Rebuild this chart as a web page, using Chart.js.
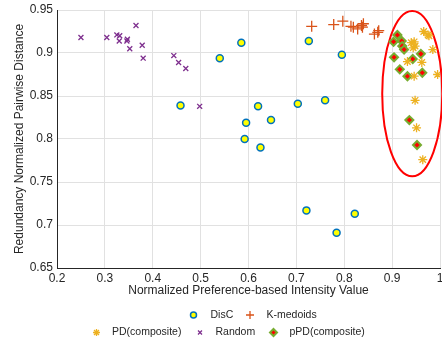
<!DOCTYPE html>
<html>
<head>
<meta charset="utf-8">
<script src="https://cdn.jsdelivr.net/npm/chart.js@4/dist/chart.umd.min.js"></script>
<style>
  html, body { margin: 0; padding: 0; background: #fff; }
  #wrap { width: 442px; height: 345px; }
</style>
</head>
<body>
<div id="wrap"><canvas id="c" width="442" height="345"></canvas></div>
<script>
// ---- data ----
const discX = [0.458, 0.540, 0.585, 0.726, 0.795, 0.620, 0.595, 0.647, 0.592, 0.625, 0.703, 0.760, 0.721, 0.822, 0.784];
const discY = [0.839, 0.894, 0.912, 0.914, 0.898, 0.838, 0.819, 0.822, 0.800, 0.790, 0.841, 0.845, 0.717, 0.713, 0.691];

const kmedX = [0.732, 0.778, 0.797, 0.814, 0.819, 0.828, 0.836, 0.840, 0.838, 0.863, 0.870, 0.872];
const kmedY = [0.931, 0.933, 0.937, 0.931, 0.930, 0.928, 0.932, 0.934, 0.930, 0.922, 0.924, 0.926];

const pdX = [0.966, 0.977, 0.975, 0.946, 0.940, 0.944, 0.948, 0.985, 0.932, 0.962, 0.946, 0.995, 0.948, 0.951, 0.964];
const pdY = [0.925, 0.920, 0.921, 0.913, 0.912, 0.906, 0.908, 0.904, 0.890, 0.889, 0.873, 0.875, 0.845, 0.813, 0.776];

const randX = [0.250, 0.304, 0.325, 0.331, 0.330, 0.347, 0.346, 0.352, 0.365, 0.378, 0.380, 0.444, 0.454, 0.469, 0.498];
const randY = [0.918, 0.918, 0.921, 0.920, 0.914, 0.916, 0.914, 0.905, 0.932, 0.909, 0.894, 0.897, 0.889, 0.882, 0.838];

const ppdX = [0.911, 0.903, 0.920, 0.921, 0.925, 0.904, 0.943, 0.960, 0.916, 0.932, 0.963, 0.936, 0.952];
const ppdY = [0.921, 0.913, 0.914, 0.908, 0.904, 0.895, 0.893, 0.899, 0.881, 0.873, 0.877, 0.822, 0.793];

const xTicks = [0.2, 0.3, 0.4, 0.5, 0.6, 0.7, 0.8, 0.9, 1];
const yTicks = [0.65, 0.7, 0.75, 0.8, 0.85, 0.9, 0.95];

const seriesNames = ['DisC', 'K-medoids', 'PD(composite)', 'Random', 'pPD(composite)'];
const xTitle = 'Normalized Preference-based Intensity Value';
const yTitle = 'Redundancy Normalized Pairwise Distance';

// highlight ellipse (data units)
const ellipseCenter = [0.942, 0.8527];
const ellipseRadii = [0.0627, 0.0961];

// ---- build ----
const pts = (xs, ys) => xs.map((x, i) => ({ x: x, y: ys[i] }));
const FONT = '"Liberation Sans", Arial, Helvetica, sans-serif';
const TXT = '#262626';
const AREA = { left: 57, top: 10, right: 440, bottom: 268 };

const styles = [
  { pointStyle: 'circle', pointRadius: 3.5, backgroundColor: '#FFFF00', borderColor: '#0072BD', borderWidth: 1.5 },
  { pointStyle: 'cross', pointRadius: 5.5, backgroundColor: '#D95319', borderColor: '#D95319', borderWidth: 1.3 },
  { pointStyle: 'star', pointRadius: 4.5, backgroundColor: '#EDB120', borderColor: '#EDB120', borderWidth: 1.3 },
  { pointStyle: 'crossRot', pointRadius: 3.5, backgroundColor: '#7E2F8E', borderColor: '#7E2F8E', borderWidth: 1.3 },
  { pointStyle: 'rectRot', pointRadius: 4, backgroundColor: '#FF0000', borderColor: '#77AC30', borderWidth: 2 }
];
const dataSets = [pts(discX, discY), pts(kmedX, kmedY), pts(pdX, pdY), pts(randX, randY), pts(ppdX, ppdY)];

const datasets = dataSets.map((d, i) => Object.assign({
  label: seriesNames[i],
  data: d,
  pointHoverRadius: styles[i].pointRadius
}, styles[i]));

function drawMarker(ctx, st, x, y, r) {
  ctx.save();
  ctx.fillStyle = st.backgroundColor;
  ctx.strokeStyle = st.borderColor;
  ctx.lineWidth = st.borderWidth;
  ctx.beginPath();
  switch (st.pointStyle) {
    case 'circle':
      ctx.arc(x, y, r, 0, Math.PI * 2); ctx.fill(); ctx.stroke(); break;
    case 'cross':
      ctx.moveTo(x - r, y); ctx.lineTo(x + r, y); ctx.moveTo(x, y - r); ctx.lineTo(x, y + r); ctx.stroke(); break;
    case 'crossRot': {
      const d = r * 0.7071;
      ctx.moveTo(x - d, y - d); ctx.lineTo(x + d, y + d); ctx.moveTo(x + d, y - d); ctx.lineTo(x - d, y + d); ctx.stroke(); break;
    }
    case 'star': {
      const d = r * 0.7071;
      ctx.moveTo(x - r, y); ctx.lineTo(x + r, y); ctx.moveTo(x, y - r); ctx.lineTo(x, y + r);
      ctx.moveTo(x - d, y - d); ctx.lineTo(x + d, y + d); ctx.moveTo(x + d, y - d); ctx.lineTo(x - d, y + d); ctx.stroke(); break;
    }
    case 'rectRot':
      ctx.moveTo(x, y - r); ctx.lineTo(x + r, y); ctx.lineTo(x, y + r); ctx.lineTo(x - r, y); ctx.closePath();
      ctx.fill(); ctx.stroke(); break;
  }
  ctx.restore();
}

const extrasPlugin = {
  id: 'extras',
  afterLayout(chart) {
    // pin the plot area to the reference's position
    const ca = chart.chartArea;
    ca.left = AREA.left; ca.right = AREA.right; ca.top = AREA.top; ca.bottom = AREA.bottom;
    ca.width = AREA.right - AREA.left; ca.height = AREA.bottom - AREA.top;
    const x = chart.scales.x, y = chart.scales.y;
    x.left = AREA.left; x.right = AREA.right; x.width = AREA.right - AREA.left;
    x.top = AREA.bottom; x.bottom = chart.height; x.height = chart.height - AREA.bottom;
    y.left = 0; y.right = AREA.left; y.width = AREA.left;
    y.top = AREA.top; y.bottom = AREA.bottom; y.height = AREA.bottom - AREA.top;
    x.configure(); y.configure();
  },
  beforeDatasetsDraw(chart) {
    const { ctx, scales: { x, y } } = chart;
    const cx = x.getPixelForValue(ellipseCenter[0]);
    const cy = y.getPixelForValue(ellipseCenter[1]);
    const rx = Math.abs(x.getPixelForValue(ellipseCenter[0] + ellipseRadii[0]) - cx);
    const ry = Math.abs(y.getPixelForValue(ellipseCenter[1] + ellipseRadii[1]) - cy);
    ctx.save();
    ctx.strokeStyle = '#FF0000';
    ctx.lineWidth = 2;
    ctx.beginPath();
    ctx.ellipse(cx, cy, rx, ry, 0, 0, Math.PI * 2);
    ctx.stroke();
    ctx.restore();
  },
  afterDraw(chart) {
    const { ctx, chartArea } = chart;
    ctx.save();
    ctx.fillStyle = TXT;
    ctx.font = '12px ' + FONT;
    ctx.textAlign = 'center';
    ctx.textBaseline = 'middle';
    ctx.fillText(xTitle, (chartArea.left + chartArea.right) / 2, 291);
    ctx.save();
    ctx.translate(20, (chartArea.top + chartArea.bottom) / 2);
    ctx.rotate(-Math.PI / 2);
    ctx.fillText(yTitle, 0, 0);
    ctx.restore();

    // legend (two rows, as in reference)
    const legendItems = [
      { i: 0, mx: 193.5, my: 315, tx: 210.5 },
      { i: 1, mx: 250, my: 315, tx: 266.5 },
      { i: 2, mx: 96.5, my: 332.5, tx: 112 },
      { i: 3, mx: 200, my: 332.5, tx: 215.5 },
      { i: 4, mx: 273.5, my: 332.5, tx: 289.5 }
    ];
    const legendR = [3, 4, 3.5, 2.8, 3.5];
    ctx.font = '10.5px ' + FONT;
    ctx.textAlign = 'left';
    legendItems.forEach(it => {
      drawMarker(ctx, styles[it.i], it.mx, it.my, legendR[it.i]);
      ctx.fillStyle = TXT;
      ctx.fillText(seriesNames[it.i], it.tx, it.my);
    });
    ctx.restore();
  }
};

const fmt = v => String(Number(v.toFixed(2)));

new Chart(document.getElementById('c'), {
  type: 'scatter',
  data: { datasets: datasets },
  options: {
    responsive: false,
    animation: false,
    devicePixelRatio: 1,
    layout: { padding: { top: 10, right: 2, left: 0, bottom: 0 } },
    plugins: { legend: { display: false }, tooltip: { enabled: false } },
    scales: {
      x: {
        type: 'linear',
        min: 0.2, max: 1,
        afterBuildTicks: s => { s.ticks = xTicks.map(v => ({ value: v })); },
        afterFit: s => { s.height = 77; },
        ticks: { color: TXT, font: { family: FONT, size: 12 }, padding: 3, callback: v => fmt(v), maxRotation: 0, autoSkip: false },
        grid: { color: '#E1E1E1', lineWidth: 1, drawTicks: false },
        border: { color: '#262626', width: 1 }
      },
      y: {
        type: 'linear',
        min: 0.65, max: 0.95,
        afterBuildTicks: s => { s.ticks = yTicks.map(v => ({ value: v })); },
        afterFit: s => { s.width = 57; },
        ticks: { color: TXT, font: { family: FONT, size: 12 }, padding: 4, callback: v => fmt(v), autoSkip: false },
        grid: { color: '#E1E1E1', lineWidth: 1, drawTicks: false },
        border: { color: '#262626', width: 1 }
      }
    }
  },
  plugins: [extrasPlugin]
});
</script>
</body>
</html>
